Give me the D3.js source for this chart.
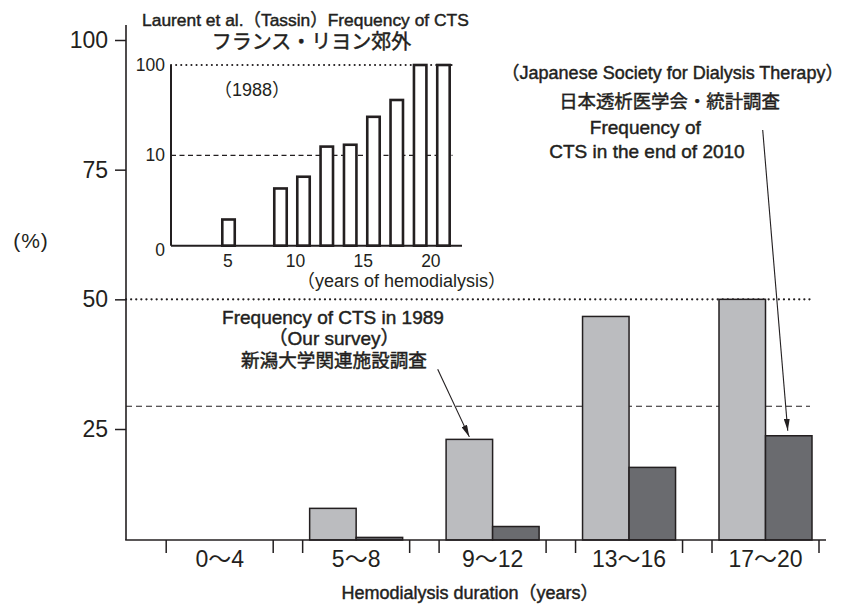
<!DOCTYPE html>
<html>
<head>
<meta charset="utf-8">
<script src="https://cdn.jsdelivr.net/npm/d3@7"></script>
<style>
  html, body { margin: 0; padding: 0; background: #fff; }
  svg { display: block; }
  text { font-family: "Liberation Sans", Arial, "Noto Sans CJK JP", sans-serif; fill: #231f20; }
  text.semi { stroke: #231f20; stroke-width: 0.45px; }
</style>
</head>
<body>
<svg id="chart" width="845" height="608"></svg>
<script>
// ---------------- data ----------------
const categories = ["0〜4", "5〜8", "9〜12", "13〜16", "17〜20"];
const seriesNames = ["1989", "2010"];
const survey1989 = [0, 9.7, 23.0, 46.7, 50.0];     // Our survey (light bars)
const jsdt2010   = [0, 4.1, 6.2, 17.6, 23.7];      // JSDT end of 2010 (dark bars)
const yTicks = [25, 50, 75, 100];
const refDotted = [50];
const refDashed = [29.4];

// inset (Laurent et al., Tassin 1988) - log scale
const insetYears  = [5.05, 8.89, 10.59, 12.31, 14.04, 15.76, 17.48, 19.21, 20.93];
const insetValues = [1.95, 4.3, 5.8, 12.5, 13.1, 26.7, 41, 100, 100];
const insetYTickValues = [1, 10, 100];
const insetYTickLabels = ["0", "10", "100"];
const insetXTicks = [5, 10, 15, 20];

// ---------------- layout ----------------
const svg = d3.select("#chart");
const ink = "#231f20";
const lightFill = "#bbbcbf";
const darkFill = "#6a6b6f";

const yMin = 3.6;
const y = d3.scaleLinear().domain([yMin, 100]).range([540, 40]);
const x = d3.scalePoint().domain(categories).range([219.7, 765.5]);
const xSub = d3.scaleBand().domain(seriesNames).range([-46.5, 46.5]);
const axisLeft = 126, axisRight = 826, lineRight = 810;
const tickHalf = 53.5;

// reference lines (behind bars)
svg.selectAll("line.dotted").data(refDotted).join("line")
  .attr("x1", axisLeft).attr("x2", lineRight)
  .attr("y1", d => y(d)).attr("y2", d => y(d))
  .attr("stroke", ink).attr("stroke-width", 2.2)
  .attr("stroke-linecap", "round").attr("stroke-dasharray", "0.1,5");
svg.selectAll("line.dashed").data(refDashed).join("line")
  .attr("x1", axisLeft).attr("x2", lineRight)
  .attr("y1", d => y(d)).attr("y2", d => y(d))
  .attr("stroke", ink).attr("stroke-width", 1.1)
  .attr("stroke-dasharray", "6,4");

// bars
const barData = [];
categories.forEach((c, i) => {
  barData.push({cat: c, s: "1989", v: survey1989[i]});
  barData.push({cat: c, s: "2010", v: jsdt2010[i]});
});
svg.append("g").selectAll("rect").data(barData.filter(d => d.v > yMin)).join("rect")
  .attr("x", d => x(d.cat) + xSub(d.s))
  .attr("width", xSub.bandwidth())
  .attr("y", d => y(d.v))
  .attr("height", d => y(yMin) - y(d.v))
  .attr("fill", d => d.s === "1989" ? lightFill : darkFill)
  .attr("stroke", ink).attr("stroke-width", 1.5);

// y axis
const yAxisG = svg.append("g").attr("transform", `translate(${axisLeft},0)`)
  .call(d3.axisLeft(y).tickValues(yTicks).tickSize(11).tickPadding(7).tickFormat(d3.format("d")));
yAxisG.select(".domain").remove();
yAxisG.selectAll(".tick line").attr("stroke", ink).attr("stroke-width", 1.5);
yAxisG.selectAll(".tick text").attr("font-size", 23).attr("fill", ink)
  .attr("font-family", "Liberation Sans, Arial, sans-serif");
svg.append("line").attr("x1", axisLeft).attr("x2", axisLeft)
  .attr("y1", y(102.9)).attr("y2", y(yMin))
  .attr("stroke", ink).attr("stroke-width", 1.6);

// x baseline + paired ticks
svg.append("line").attr("x1", axisLeft - 0.8).attr("x2", axisRight)
  .attr("y1", y(yMin)).attr("y2", y(yMin))
  .attr("stroke", ink).attr("stroke-width", 1.6);
const tickPairs = [];
categories.forEach(c => { tickPairs.push(x(c) - tickHalf); tickPairs.push(x(c) + tickHalf); });
svg.selectAll("line.xt").data(tickPairs).join("line")
  .attr("x1", d => d).attr("x2", d => d)
  .attr("y1", y(yMin)).attr("y2", y(yMin) + 13)
  .attr("stroke", ink).attr("stroke-width", 1.5);
svg.selectAll("text.xl").data(categories).join("text")
  .attr("x", d => x(d)).attr("y", 567)
  .attr("text-anchor", "middle").attr("font-size", 23).text(d => d);

// axis titles
svg.append("text").attr("class", "semi").attr("x", 470).attr("y", 599).attr("text-anchor", "middle")
  .attr("font-size", 18).text("Hemodialysis duration（years）");
svg.append("text").attr("x", 31).attr("y", 248).attr("text-anchor", "middle")
  .attr("font-size", 21).attr("letter-spacing", 1).text("(%)");

// annotations
function label(xp, yp, t, size) {
  svg.append("text").attr("class", "semi").attr("x", xp).attr("y", yp).attr("text-anchor", "middle")
    .attr("font-size", size).text(t);
}
label(333, 324, "Frequency of CTS in 1989", 19);
label(334, 345, "（Our survey）", 19);
label(334, 367, "新潟大学関連施設調査", 18.6);
label(672.5, 79, "（Japanese Society for Dialysis Therapy）", 18);
label(669.5, 108, "日本透析医学会・統計調査", 18.4);
label(645.3, 134, "Frequency of", 19);
label(647, 158, "CTS in the end of 2010", 19);

// arrows
const defs = svg.append("defs");
defs.append("marker").attr("id", "arr").attr("viewBox", "0 0 12 6")
  .attr("refX", 12).attr("refY", 3).attr("markerWidth", 12).attr("markerHeight", 6)
  .attr("markerUnits", "userSpaceOnUse").attr("orient", "auto")
  .append("path").attr("d", "M0,0 L12,3 L0,6 Z").attr("fill", ink);
svg.append("line")
  .attr("x1", 437.7).attr("y1", 369.3)
  .attr("x2", x("9〜12") + xSub("1989") + xSub.bandwidth() / 2).attr("y2", y(survey1989[2]) - 2.5)
  .attr("stroke", ink).attr("stroke-width", 1.1).attr("marker-end", "url(#arr)");
svg.append("line")
  .attr("x1", 762.7).attr("y1", 130)
  .attr("x2", x("17〜20") + xSub("2010") + xSub.bandwidth() / 2 - 1).attr("y2", y(jsdt2010[4]) - 5)
  .attr("stroke", ink).attr("stroke-width", 1.1).attr("marker-end", "url(#arr)");

// ---------------- inset ----------------
const ix = d3.scaleLinear().domain([0.8, 22.3]).range([171, 462]);
const iy = d3.scaleLog().domain([1, 100]).range([245.7, 65]);
const iBarW = 0.92;

svg.append("line").attr("x1", ix(0.8)).attr("x2", ix(21.55))
  .attr("y1", iy(100)).attr("y2", iy(100))
  .attr("stroke", ink).attr("stroke-width", 2).attr("stroke-linecap", "round")
  .attr("stroke-dasharray", "0.1,5");
svg.append("line").attr("x1", ix(0.8)).attr("x2", ix(21.6))
  .attr("y1", iy(10)).attr("y2", iy(10))
  .attr("stroke", ink).attr("stroke-width", 1.1).attr("stroke-dasharray", "5,3.5");

svg.append("g").selectAll("rect").data(insetYears.map((yr, i) => ({yr, v: insetValues[i]}))).join("rect")
  .attr("x", d => ix(d.yr - iBarW / 2))
  .attr("width", ix(iBarW) - ix(0))
  .attr("y", d => iy(d.v))
  .attr("height", d => iy(1) - iy(d.v))
  .attr("fill", "#fff").attr("stroke", ink).attr("stroke-width", 2.6);

svg.append("line").attr("x1", ix(0.8)).attr("x2", ix(0.8))
  .attr("y1", iy(100)).attr("y2", iy(1))
  .attr("stroke", ink).attr("stroke-width", 2);
svg.append("line").attr("x1", ix(0.8)).attr("x2", ix(22.3))
  .attr("y1", iy(1)).attr("y2", iy(1))
  .attr("stroke", ink).attr("stroke-width", 2);

svg.selectAll("text.iyl").data(insetYTickValues).join("text")
  .attr("x", ix(0.8) - 6).attr("y", (d, i) => iy(d) + (i === 0 ? 10.5 : 6))
  .attr("text-anchor", "end").attr("font-size", 17.5)
  .text((d, i) => insetYTickLabels[i]);
svg.selectAll("text.ixl").data(insetXTicks).join("text")
  .attr("x", d => ix(d)).attr("y", 266.7)
  .attr("text-anchor", "middle").attr("font-size", 17.5).text(d => d);

svg.append("text").attr("x", 401.5).attr("y", 287).attr("text-anchor", "middle")
  .attr("font-size", 18).text("（years of hemodialysis）");
svg.append("text").attr("x", 252).attr("y", 95.5).attr("text-anchor", "middle")
  .attr("font-size", 18).text("（1988）");
svg.append("text").attr("class", "semi").attr("x", 305.4).attr("y", 25.5).attr("text-anchor", "middle")
  .attr("font-size", 17.4).text("Laurent et al.（Tassin）Frequency of CTS");
svg.append("text").attr("class", "semi").attr("x", 311.5).attr("y", 49).attr("text-anchor", "middle")
  .attr("font-size", 20).text("フランス・リヨン郊外");
</script>
</body>
</html>
